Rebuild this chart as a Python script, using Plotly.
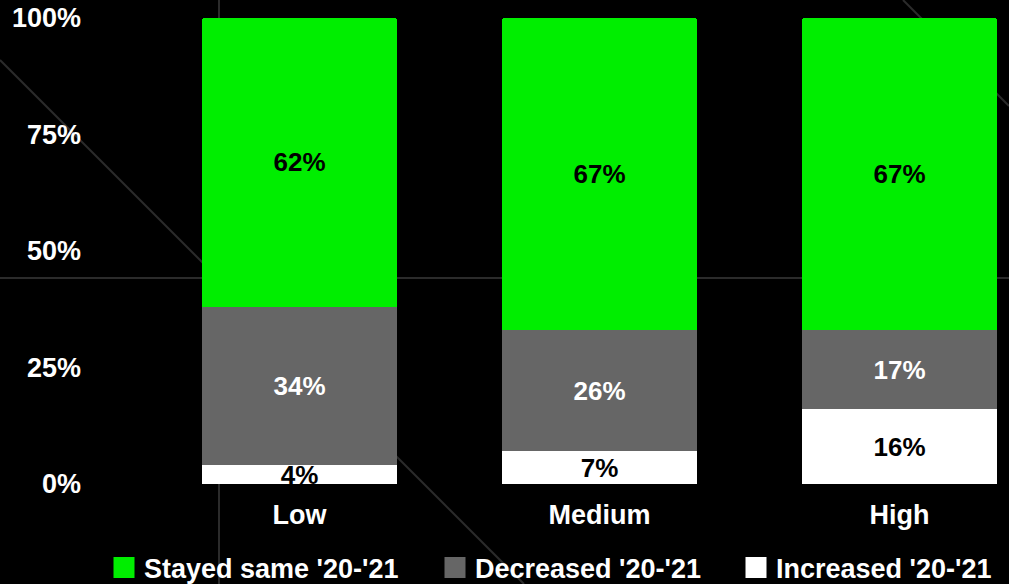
import plotly.graph_objects as go

categories = ["Low", "Medium", "High"]
increased = [4, 7, 16]
decreased = [34, 26, 17]
stayed_same = [62, 67, 67]
series_names = ["Increased '20-'21", "Decreased '20-'21", "Stayed same '20-'21"]
y_tickvals = [0, 25, 50, 75, 100]
y_ticktext = ["0%", "25%", "50%", "75%", "100%"]

GREEN = "#00ee00"
GRAY = "#666666"
WHITE = "#ffffff"
FONT = "Liberation Sans"

W, H = 1009, 584
L, R, T, B = 84, 0, 18, 100
pw, ph = W - L - R, H - T - B


def px(xp, yp):
    return (xp - L) / pw, (H - B - yp) / ph


fig = go.Figure()

specs = [
    (increased, series_names[0], WHITE, "black", "0px 0px 3px white"),
    (decreased, series_names[1], GRAY, "white", "none"),
    (stayed_same, series_names[2], GREEN, "black", "none"),
]
for vals, name, col, tcol, shadow in specs:
    fig.add_trace(go.Bar(
        x=categories, y=vals, name=name,
        marker=dict(color=col, line=dict(width=0)),
        text=[f"{v}%" for v in vals], textposition="inside",
        insidetextanchor="middle",
        textfont=dict(family=FONT, size=26, color=tcol, weight="bold", shadow=shadow),
        showlegend=False, hoverinfo="skip",
    ))

# legend entries, one legend per item so spacing matches
legend_specs = [(series_names[2], GREEN, "legend", 110), (series_names[1], GRAY, "legend2", 441),
                (series_names[0], WHITE, "legend3", 742)]
legend_layout = {}
for name, col, lg, xstart in legend_specs:
    fig.add_trace(go.Scatter(
        x=[None], y=[None], mode="markers", name=name, legend=lg,
        marker=dict(symbol="square", size=16, color=col, line=dict(color=col, width=5)),
        showlegend=True, hoverinfo="skip",
    ))
    lx, ly = px(xstart - 6, 568)
    legend_layout[lg] = dict(orientation="h", x=lx, xanchor="left", y=ly, yanchor="middle",
                             font=dict(family=FONT, size=27, color="white", weight="bold"),
                             bgcolor="rgba(0,0,0,0)", itemclick=False, borderwidth=0)

# decorative background lines
lines = [((219, 0), (219, 584)), ((0, 278), (1009, 278)), ((0, 60), (524, 584)), ((903, 0), (1009, 106))]
shapes = []
for (x0, y0), (x1, y1) in lines:
    a0, b0 = px(x0, y0)
    a1, b1 = px(x1, y1)
    shapes.append(dict(type="line", xref="paper", yref="paper", x0=a0, y0=b0, x1=a1, y1=b1,
                       line=dict(color="#2b2b2b", width=2), layer="below"))

fig.update_layout(
    width=W, height=H,
    margin=dict(l=L, r=R, t=T, b=B, autoexpand=False),
    barmode="stack", bargap=0.35, barcornerradius=3,
    paper_bgcolor="black", plot_bgcolor="rgba(0,0,0,0)",
    uniformtext=dict(minsize=26, mode="show"),
    font=dict(family=FONT, color="white", size=26, weight="bold"),
    shapes=shapes,
    **legend_layout,
    xaxis=dict(range=[(L - 299.5) / 300, (W - 299.5) / 300], showgrid=False, zeroline=False,
               showline=False, ticks="", ticklabelstandoff=12, automargin=False,
               tickfont=dict(family=FONT, size=27, color="white", weight="bold"),
               fixedrange=True),
    yaxis=dict(range=[0, 100], tickvals=y_tickvals, ticktext=y_ticktext, showgrid=False,
               zeroline=False, showline=False, ticks="", ticklabelstandoff=2, automargin=False,
               tickfont=dict(family=FONT, size=27, color="white", weight="bold"), fixedrange=True),
)

fig.write_html("out.html")
